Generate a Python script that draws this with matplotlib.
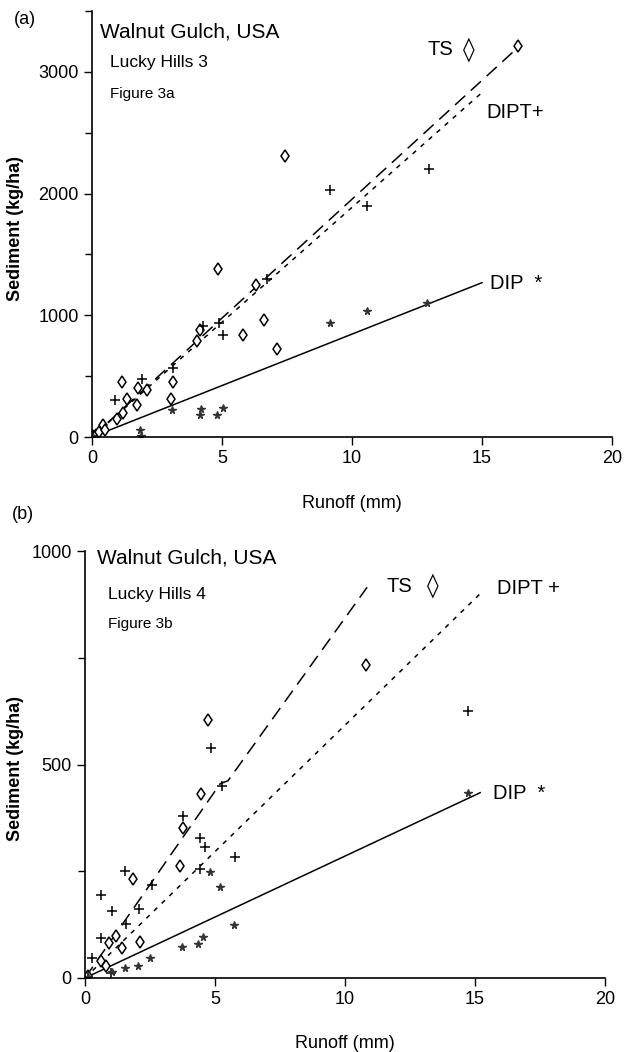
import matplotlib
matplotlib.use("Agg")
import matplotlib.pyplot as plt
from matplotlib.ticker import MultipleLocator

plt.rcParams['font.family'] = ['Liberation Sans', 'DejaVu Sans']

# ---- panel (a): Lucky Hills 3 ----
a_ts_x = [0.05, 0.15, 0.25, 0.41, 0.5, 0.95, 1.2, 1.14, 1.33, 1.72, 1.75, 2.1, 3.04, 3.13,
          4.05, 4.15, 4.86, 5.8, 6.3, 6.62, 7.13, 7.42, 16.38]
a_ts_y = [5, 20, 40, 99, 57, 145, 195, 454, 310, 263, 405, 390, 312, 454,
          791, 879, 1380, 838, 1249, 961, 720, 2309, 3213]
a_dipt_x = [0.05, 0.88, 1.91, 3.13, 4.28, 4.9, 5.05, 6.72, 9.15, 10.56, 12.97]
a_dipt_y = [5, 304, 478, 564, 912, 934, 834, 1298, 2030, 1898, 2200]
a_dip_x = [0.05, 1.85, 1.88, 3.06, 4.15, 4.2, 4.8, 5.05, 9.15, 10.56, 12.87]
a_dip_y = [3, 57, 8, 222, 181, 227, 181, 236, 939, 1038, 1099]
a_ts_line = ([0, 16.38], [0, 3200])
a_dipt_line = ([0, 15], [0, 2830])
a_dip_line = ([0, 15], [0, 1268])

# ---- panel (b): Lucky Hills 4 ----
b_ts_x = [0.1, 0.6, 0.79, 0.94, 1.19, 1.44, 1.86, 2.12, 3.65, 3.78, 4.45, 4.74, 10.8]
b_ts_y = [5, 40, 29, 81, 98, 70, 233, 84, 263, 352, 430, 604, 733]
b_dipt_x = [0.13, 0.28, 0.6, 0.6, 1.03, 0.99, 1.55, 1.56, 2.09, 2.56, 3.78, 4.42, 4.42,
            4.62, 4.83, 5.26, 5.77, 14.73]
b_dipt_y = [3, 48, 94, 194, 158, 12, 251, 126, 161, 218, 379, 255, 329,
            306, 538, 450, 284, 625]
b_dip_x = [0.1, 1.03, 1.54, 2.05, 2.5, 3.72, 4.33, 4.55, 4.81, 5.19, 5.73, 14.73]
b_dip_y = [2, 15, 24, 29, 48, 73, 79, 95, 249, 212, 124, 433]
b_ts_line = ([0, 5.2, 5.5, 10.85], [0, 455, 462, 915])
b_dipt_line = ([0, 15.2], [0, 900])
b_dip_line = ([0, 15.2], [0, 434])

W, H = 632, 1052
fig = plt.figure(figsize=(W / 100, H / 100), dpi=100)


def px_axes(left, right, bottom, top):
    return fig.add_axes([left / W, 1 - bottom / H, (right - left) / W, (bottom - top) / H])


def style(ax, ymax, ymajor, yminor):
    for s in ['top', 'right']:
        ax.spines[s].set_visible(False)
    for s in ['left', 'bottom']:
        ax.spines[s].set_linewidth(1.2)
    ax.set_xlim(0, 20)
    ax.set_ylim(0, ymax)
    ax.xaxis.set_major_locator(MultipleLocator(5))
    ax.yaxis.set_major_locator(MultipleLocator(ymajor))
    ax.yaxis.set_minor_locator(MultipleLocator(yminor))
    ax.tick_params(which='major', direction='out', length=6, width=1, labelsize=13)
    ax.tick_params(which='minor', direction='out', length=5, width=1)
    ax.set_xlabel('Runoff (mm)', fontsize=13)
    ax.set_ylabel('Sediment (kg/ha)', fontsize=13, fontweight='bold')


def draw(ax, ts_x, ts_y, dipt_x, dipt_y, dip_x, dip_y, ts_line, dipt_line, dip_line):
    ax.plot(*ts_line, color='black', lw=1.1, ls=(0, (9, 5)))
    ax.plot(*dipt_line, color='black', lw=1.1, ls=(0, (3, 4)))
    ax.plot(*dip_line, color='black', lw=1.1, ls='-')
    ax.plot(ts_x, ts_y, ls='none', marker='d', ms=6.5, mfc='white', mec='black', mew=1.1)
    ax.plot(dipt_x, dipt_y, ls='none', marker='+', ms=7, mec='black', mew=1.1)
    ax.plot(dip_x, dip_y, ls='none', marker='*', ms=5.5, mfc='#333333', mec='#333333')


def ts_label(ax, x, y, gap):
    ax.text(x, y, 'TS', fontsize=14.5, va='center')
    ax.text(x + gap, y, '\u25CA', fontsize=17, va='center', family='DejaVu Sans')


# panel (a)
ax1 = px_axes(92, 612, 437, 11)
style(ax1, 3500, 1000, 500)
draw(ax1, a_ts_x, a_ts_y, a_dipt_x, a_dipt_y, a_dip_x, a_dip_y,
     a_ts_line, a_dipt_line, a_dip_line)
ts_label(ax1, 12.9, 3180, 1.35)
ax1.text(15.15, 2662, 'DIPT+', fontsize=14.5, va='center')
ax1.text(15.3, 1265, 'DIP  *', fontsize=14.5, va='center')
ax1.xaxis.set_label_coords(0.5, -0.136)
ax1.yaxis.set_label_coords(-0.131, 0.49)
fig.text(100 / W, 1 - 32 / H, 'Walnut Gulch, USA', fontsize=15, va='center')
fig.text(110 / W, 1 - 63 / H, 'Lucky Hills 3', fontsize=12.5, va='center')
fig.text(110 / W, 1 - 94 / H, 'Figure 3a', fontsize=11, va='center')
fig.text(14 / W, 1 - 20 / H, '(a)', fontsize=13, va='center')

# panel (b)
ax2 = px_axes(85, 605, 978, 551)
style(ax2, 1000, 500, 250)
draw(ax2, b_ts_x, b_ts_y, b_dipt_x, b_dipt_y, b_dip_x, b_dip_y,
     b_ts_line, b_dipt_line, b_dip_line)
ts_label(ax2, 11.6, 918, 1.55)
ax2.text(15.85, 913, 'DIPT +', fontsize=14.5, va='center')
ax2.text(15.7, 433, 'DIP  *', fontsize=14.5, va='center')
ax2.xaxis.set_label_coords(0.5, -0.133)
ax2.yaxis.set_label_coords(-0.117, 0.49)
fig.text(97 / W, 1 - 558 / H, 'Walnut Gulch, USA', fontsize=15, va='center')
fig.text(108 / W, 1 - 595 / H, 'Lucky Hills 4', fontsize=12.5, va='center')
fig.text(108 / W, 1 - 624 / H, 'Figure 3b', fontsize=11, va='center')
fig.text(12 / W, 1 - 515 / H, '(b)', fontsize=13, va='center')

fig.savefig('out.png', dpi=100)
